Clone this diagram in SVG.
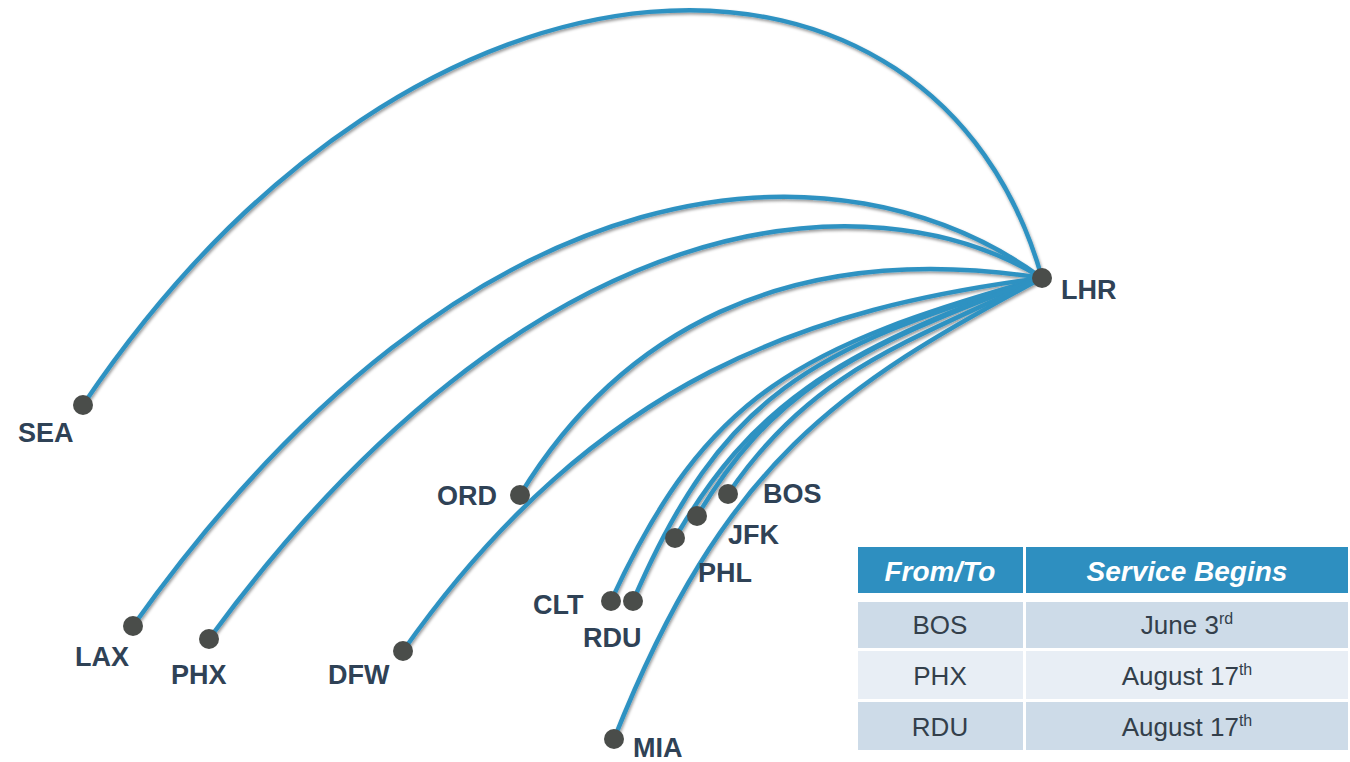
<svg xmlns="http://www.w3.org/2000/svg" width="1350" height="762" viewBox="0 0 1350 762">
<defs>
<filter id="sh" x="-10%" y="-10%" width="120%" height="120%">
<feDropShadow dx="1" dy="2" stdDeviation="1.5" flood-color="#000" flood-opacity="0.4"/>
</filter>
<style>
.route{fill:none;stroke:#2f92c2;stroke-width:4.5;stroke-linecap:round}
.dot{fill:#4a4d4a}
.lbl{font-family:"Liberation Sans",Arial,sans-serif;font-weight:bold;font-size:27px;fill:#2f4256}
.hd{fill:#2e8fc0}
.ra{fill:#cddbe8}
.rb{fill:#e8eef5}
.ht{font-family:"Liberation Sans",Arial,sans-serif;font-weight:bold;font-style:italic;font-size:28px;fill:#ffffff;text-anchor:middle}
.bt{font-family:"Liberation Sans",Arial,sans-serif;font-size:26px;fill:#333f4b;text-anchor:middle}
</style>
</defs>
<rect width="1350" height="762" fill="#ffffff"/>
<g id="connectors" filter="url(#sh)">
<path class="route" d="M83,405 C422,-98 936,-98 1042,278"/>
<path class="route" d="M133,626 C475,145 843,133 1042,278"/>
<path class="route" d="M209,639 C530,200 869,172 1042,278"/>
<path class="route" d="M520,495 C617,336 782,238 1042,278"/>
<path class="route" d="M403,651 C598,374 814,308 1042,278"/>
<path class="route" d="M611,601 C707,392 801,346 1042,278"/>
<path class="route" d="M633,601 C722,395 810,348 1042,278"/>
<path class="route" d="M675,538 C750,410 830,352 1042,278"/>
<path class="route" d="M697,516 C770,395 845,350 1042,278"/>
<path class="route" d="M728,494 C812,370 907,343 1042,278"/>
<path class="route" d="M614,739 C725,460 840,386 1042,278"/>
</g>
<g id="SEA"><circle class="dot" cx="83" cy="405" r="10"/><text class="lbl" x="18" y="442">SEA</text></g>
<g id="LAX"><circle class="dot" cx="133" cy="626" r="10"/><text class="lbl" x="75" y="666">LAX</text></g>
<g id="PHX"><circle class="dot" cx="209" cy="639" r="10"/><text class="lbl" x="171" y="684">PHX</text></g>
<g id="DFW"><circle class="dot" cx="403" cy="651" r="10"/><text class="lbl" x="328" y="684">DFW</text></g>
<g id="ORD"><circle class="dot" cx="520" cy="495" r="10"/><text class="lbl" x="437" y="505">ORD</text></g>
<g id="CLT"><circle class="dot" cx="611" cy="601" r="10"/><text class="lbl" x="533" y="614">CLT</text></g>
<g id="RDU"><circle class="dot" cx="633" cy="601" r="10"/><text class="lbl" x="583" y="647">RDU</text></g>
<g id="PHL"><circle class="dot" cx="675" cy="538" r="10"/><text class="lbl" x="698" y="582">PHL</text></g>
<g id="JFK"><circle class="dot" cx="697" cy="516" r="10"/><text class="lbl" x="728" y="544">JFK</text></g>
<g id="BOS"><circle class="dot" cx="728" cy="494" r="10"/><text class="lbl" x="763" y="503">BOS</text></g>
<g id="MIA"><circle class="dot" cx="614" cy="739" r="10"/><text class="lbl" x="633" y="757">MIA</text></g>
<g id="LHR"><circle class="dot" cx="1042" cy="278" r="10"/><text class="lbl" x="1061" y="299">LHR</text></g>
<g id="table">
<rect class="hd" x="858" y="547" width="165" height="46"/>
<rect class="hd" x="1026" y="547" width="322" height="46"/>
<rect class="ra" x="858" y="602" width="165" height="46"/>
<rect class="ra" x="1026" y="602" width="322" height="46"/>
<rect class="rb" x="858" y="651" width="165" height="48"/>
<rect class="rb" x="1026" y="651" width="322" height="48"/>
<rect class="ra" x="858" y="702" width="165" height="48"/>
<rect class="ra" x="1026" y="702" width="322" height="48"/>
<text class="ht" x="940" y="581">From/To</text>
<text class="ht" x="1187" y="581">Service Begins</text>
<text class="bt" x="940" y="634">BOS</text>
<text class="bt" x="1187" y="634">June 3<tspan dy="-10" font-size="16">rd</tspan></text>
<text class="bt" x="940" y="685">PHX</text>
<text class="bt" x="1187" y="685">August 17<tspan dy="-10" font-size="16">th</tspan></text>
<text class="bt" x="940" y="736">RDU</text>
<text class="bt" x="1187" y="736">August 17<tspan dy="-10" font-size="16">th</tspan></text>
</g>
</svg>
